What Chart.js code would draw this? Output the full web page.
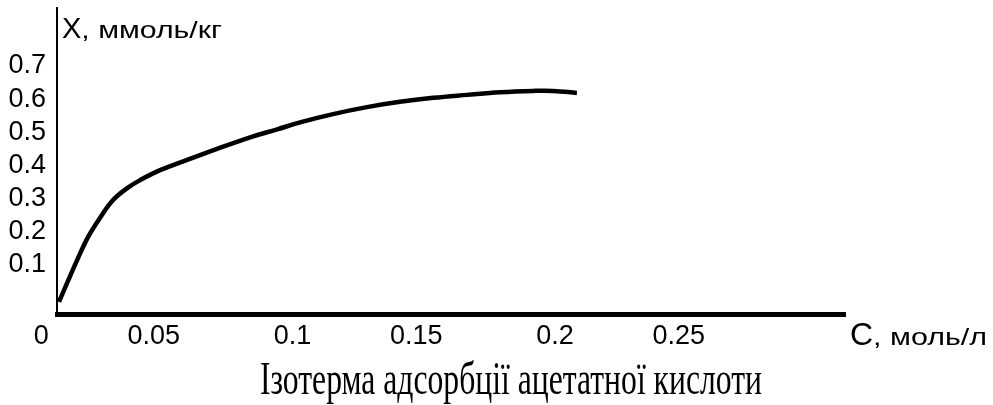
<!DOCTYPE html>
<html>
<head>
<meta charset="utf-8">
<script src="https://cdn.jsdelivr.net/npm/chart.js@4"></script>
<style>
  html, body { margin: 0; padding: 0; background: #fff; }
  #wrap { width: 993px; height: 405px; }
</style>
</head>
<body>
<div id="wrap"><canvas id="c" width="993" height="405"></canvas></div>
<script>
// Adsorption isotherm of acetic acid: equilibrium concentration C (mol/l)
// against adsorbed amount X (mmol/kg).
const concentration = [0.0039, 0.0070, 0.0108, 0.0150, 0.0195, 0.0245, 0.0299, 0.0348,
  0.0424, 0.0527, 0.0641, 0.0767, 0.0870, 0.0957, 0.1083, 0.1212, 0.1338, 0.1464,
  0.1593, 0.1719, 0.1845, 0.1921, 0.2012];
const adsorption = [-0.011, 0.046, 0.115, 0.185, 0.242, 0.296, 0.332, 0.356,
  0.386, 0.417, 0.450, 0.485, 0.509, 0.530, 0.555, 0.576, 0.592, 0.604,
  0.613, 0.621, 0.625, 0.625, 0.619];

const xTicks = [0, 0.05, 0.1, 0.15, 0.2, 0.25];
const yTicks = [0.1, 0.2, 0.3, 0.4, 0.5, 0.6, 0.7];

const xAxisName = 'C';
const xAxisUnit = ', моль/л';
const yAxisName = 'X';
const yAxisUnit = ', ммоль/кг';
const caption = 'Ізотерма адсорбції ацетатної кислоти';

const sans = "'Liberation Sans', Arial, sans-serif";
const serif = "'Liberation Serif', 'Times New Roman', serif";

// Draw text from x so that it fills the given width (0 keeps its natural width).
function fitText(ctx, text, font, x, baseline, width) {
  ctx.font = font;
  const w = ctx.measureText(text).width;
  const k = width > 0 ? width / w : 1;
  ctx.save();
  ctx.translate(x, baseline);
  ctx.scale(k, 1);
  ctx.fillText(text, 0, 0);
  ctx.restore();
  return x + w * k;
}

// Axis names at the ends of the axes and the caption under the chart.
const captions = {
  id: 'captions',
  afterDraw(chart) {
    const { ctx, chartArea } = chart;
    ctx.save();
    ctx.fillStyle = '#000';
    ctx.textBaseline = 'alphabetic';
    ctx.textAlign = 'left';

    // y axis name, right of the top of the axis
    let x = fitText(ctx, yAxisName, '29px ' + sans, chartArea.left + 5, 38, 0);
    fitText(ctx, yAxisUnit, '24px ' + sans, x, 38, 222 - x);

    // x axis name, right of the end of the axis
    x = fitText(ctx, xAxisName, '32px ' + sans, chartArea.right + 5, 345, 0);
    fitText(ctx, xAxisUnit, '24px ' + sans, x, 345, 987 - x);

    // caption, set in a narrow serif
    fitText(ctx, caption, '46px ' + serif, 260, 394, 502);
    ctx.restore();
  }
};

new Chart(document.getElementById('c'), {
  type: 'line',
  data: {
    datasets: [{
      data: concentration.map((c, i) => ({ x: c, y: adsorption[i] })),
      borderColor: '#000',
      borderWidth: 4.5,
      pointRadius: 0,
      tension: 0.4,
      fill: false,
      clip: false
    }]
  },
  options: {
    responsive: false,
    animation: false,
    events: [],
    layout: { padding: { left: 0, top: 8, right: 148, bottom: 0 } },
    plugins: { legend: { display: false }, tooltip: { enabled: false }, title: { display: false } },
    scales: {
      x: {
        type: 'linear',
        min: 0.00314,
        max: 0.30333,
        grid: { display: false, drawTicks: false },
        border: { display: true, color: '#000', width: 5 },
        afterBuildTicks(scale) { scale.ticks = xTicks.map(v => ({ value: v })); },
        afterFit(scale) {
          scale.height = 90.5;
          scale.paddingLeft = 0; scale.paddingRight = 0;
        },
        ticks: {
          autoSkip: false,
          maxRotation: 0,
          align: 'end',
          padding: 6,
          color: '#000',
          font: { family: sans, size: 27 },
          callback: v => String(v)
        }
      },
      y: {
        type: 'linear',
        min: -0.0491,
        max: 0.8749,
        grid: { display: false, drawTicks: false },
        border: { display: true, color: '#000', width: 2 },
        afterBuildTicks(scale) { scale.ticks = yTicks.map(v => ({ value: v })); },
        afterFit(scale) {
          scale.width = 57;
          scale.paddingTop = 0; scale.paddingBottom = 0;
        },
        ticks: {
          autoSkip: false,
          padding: 11,
          color: '#000',
          font: { family: sans, size: 27 },
          callback: v => String(v)
        }
      }
    }
  },
  plugins: [captions]
});
</script>
</body>
</html>
